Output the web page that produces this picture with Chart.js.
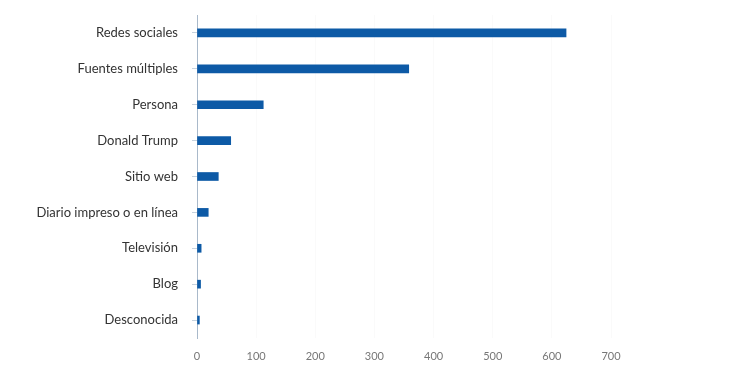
<!DOCTYPE html>
<html>
<head>
<meta charset="utf-8">
<script src="https://cdn.jsdelivr.net/npm/chart.js@4.4.1/dist/chart.umd.min.js"></script>
<style>
    html, body { margin: 0; padding: 0; background: #ffffff; }
    #wrap { width: 737px; height: 390px; }
</style>
</head>
<body>
<div id="wrap"><canvas id="chartFuentes"></canvas></div>
<script>
// categorias (de arriba a abajo)
const fuentes = [
    "Redes sociales",
    "Fuentes múltiples",
    "Persona",
    "Donald Trump",
    "Sitio web",
    "Diario impreso o en línea",
    "Televisión",
    "Blog",
    "Desconocida"
];
// valores
const cantidades = [624, 358, 112, 57, 36, 19, 7, 6, 4];
const ejeMax = 700;

new Chart(document.getElementById("chartFuentes"), {
    type: "bar",
    data: {
        labels: fuentes,
        datasets: [{
            data: cantidades,
            backgroundColor: "#0d5aa6",
            borderWidth: 0,
            barThickness: 8,
        }],
    },
    options: {
        indexAxis: "y",
        responsive: true,
        maintainAspectRatio: false,
        animation: false,
        layout: {
            padding: { top: 15, right: 126, bottom: 0, left: 0 },
        },
        scales: {
            x: {
                min: 0,
                max: ejeMax,
                ticks: {
                    stepSize: 100,
                    color: "#777777",
                    padding: 12,
                    font: { family: "Lato, sans-serif", size: 11 },
                },
                grid: {
                    color: "#fafafa",
                    drawTicks: false,
                },
                border: { display: false },
                afterFit: (scale) => {
                    scale.height = 52;
                    scale.paddingLeft = 0;
                    scale.paddingRight = 0;
                },
            },
            y: {
                ticks: {
                    color: "#333333",
                    padding: 14,
                    font: { family: "Lato, sans-serif", size: 13 },
                },
                grid: {
                    display: true,
                    offset: false,
                    drawOnChartArea: false,
                    tickLength: 5,
                    tickColor: "#c6d2de",
                },
                border: { color: "#a9b9ca", width: 1 },
                afterFit: (scale) => {
                    scale.width = 197;
                    scale.paddingTop = 0;
                    scale.paddingBottom = 0;
                },
            },
        },
        plugins: {
            legend: { display: false },
            tooltip: { enabled: false },
        },
    },
});
</script>
</body>
</html>
